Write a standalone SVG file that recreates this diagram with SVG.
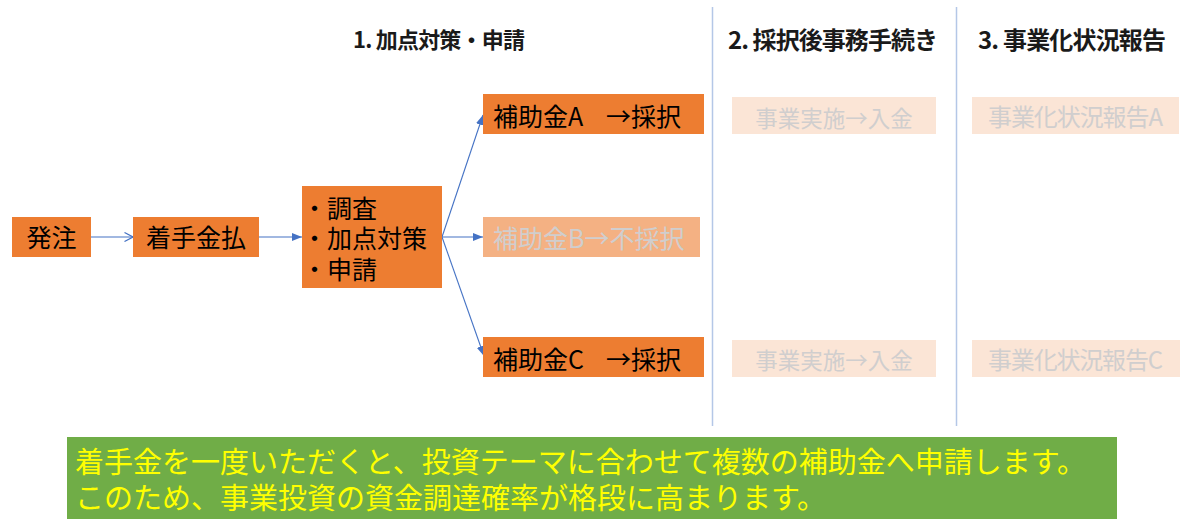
<svg xmlns="http://www.w3.org/2000/svg" width="1188" height="527" viewBox="0 0 1188 527">
<defs>
<style>
.t{font-family:"Noto Sans CJK JP","Noto Sans",sans-serif;}
.box{fill:#ED7D31;}
.lbl{font-size:25px;fill:#000000;}
.pale{fill:#FBE5D6;}
.paletxt{font-size:22.5px;fill:#D0CECE;}
.title{font-size:24px;font-weight:bold;fill:#1a1a1a;}
.conn{stroke:#4472C4;stroke-width:1.1;fill:none;}
.sep{stroke:#B4C7E7;stroke-width:1.5;}
</style>
<marker id="tri" viewBox="0 0 10 8" markerWidth="10" markerHeight="8" refX="10" refY="4" orient="auto" markerUnits="userSpaceOnUse">
<path d="M0,0 L10,4 L0,8 z" fill="#4472C4"/>
</marker>
<marker id="open" viewBox="0 0 10 10" markerWidth="10" markerHeight="10" refX="9.5" refY="5" orient="auto" markerUnits="userSpaceOnUse">
<path d="M1,0.5 L9.5,5 L1,9.5" fill="none" stroke="#4472C4" stroke-width="1.2"/>
</marker>
</defs>
<rect width="1188" height="527" fill="#FFFFFF"/>

<g id="separators">
<line class="sep" x1="712.5" y1="7" x2="712.5" y2="426"/>
<line class="sep" x1="956.5" y1="7" x2="956.5" y2="426"/>
</g>

<g id="titles" class="t">
<text class="title" x="353" y="48" style="font-size:22px" textLength="172" lengthAdjust="spacing">1. 加点対策・申請</text>
<text class="title" x="728" y="49" textLength="210" lengthAdjust="spacing">2. 採択後事務手続き</text>
<text class="title" x="978" y="49" textLength="188" lengthAdjust="spacing">3. 事業化状況報告</text>
</g>

<g id="connectors">
<line class="conn" x1="91" y1="237" x2="133" y2="237" marker-end="url(#open)"/>
<line class="conn" x1="259" y1="237" x2="302" y2="237" marker-end="url(#tri)"/>
<line class="conn" x1="442" y1="237" x2="483" y2="115" marker-end="url(#tri)"/>
<line class="conn" x1="442" y1="237" x2="483" y2="237" marker-end="url(#tri)"/>
<line class="conn" x1="442" y1="237" x2="484" y2="356" marker-end="url(#tri)"/>
</g>

<g id="node-hatchu" class="t">
<rect class="box" x="12" y="217" width="79" height="40"/>
<text class="lbl" x="51.5" y="246.5" text-anchor="middle">発注</text>
</g>

<g id="node-chakushu" class="t">
<rect class="box" x="133" y="217" width="126" height="40"/>
<text class="lbl" x="196" y="246.5" text-anchor="middle">着手金払</text>
</g>

<g id="node-chosa" class="t">
<rect class="box" x="302" y="186" width="140" height="102"/>
<text class="lbl"><tspan x="302" y="217.5">・調査</tspan><tspan x="302" y="248">・加点対策</tspan><tspan x="302" y="278.5">・申請</tspan></text>
</g>

<g id="node-hojoA" class="t">
<rect class="box" x="483" y="94" width="221" height="40"/>
<text class="lbl" x="493" y="125.5">補助金A <tspan x="606">→採択</tspan></text>
</g>

<g id="node-hojoB" class="t">
<rect x="483" y="217" width="217" height="40" fill="#F4B183"/>
<text class="lbl" x="493" y="247.5" style="fill:#D0CECE">補助金B→不採択</text>
</g>

<g id="node-hojoC" class="t">
<rect class="box" x="483" y="337" width="221" height="40"/>
<text class="lbl" x="493" y="368.5">補助金C <tspan x="606">→採択</tspan></text>
</g>

<g id="node-jigyoA" class="t">
<rect class="pale" x="732" y="97" width="204" height="37"/>
<text class="paletxt" x="834" y="126.5" text-anchor="middle">事業実施→入金</text>
</g>

<g id="node-jigyoC" class="t">
<rect class="pale" x="732" y="340" width="204" height="37"/>
<text class="paletxt" x="834" y="368.5" text-anchor="middle">事業実施→入金</text>
</g>

<g id="node-houkokuA" class="t">
<rect class="pale" x="972" y="97" width="207" height="37"/>
<text class="paletxt" x="988" y="126" style="font-size:24px" textLength="175" lengthAdjust="spacing">事業化状況報告A</text>
</g>

<g id="node-houkokuC" class="t">
<rect class="pale" x="972" y="340" width="208" height="37"/>
<text class="paletxt" x="988" y="369" style="font-size:24px" textLength="175" lengthAdjust="spacing">事業化状況報告C</text>
</g>

<g id="note" class="t">
<rect x="67" y="437" width="1050" height="82" fill="#70AD47"/>
<text font-size="29" fill="#FFFF00"><tspan x="75" y="472.5">着手金を一度いただくと、投資テーマに合わせて複数の補助金へ申請します。</tspan><tspan x="75" y="509">このため、事業投資の資金調達確率が格段に高まります。</tspan></text>
</g>
</svg>
